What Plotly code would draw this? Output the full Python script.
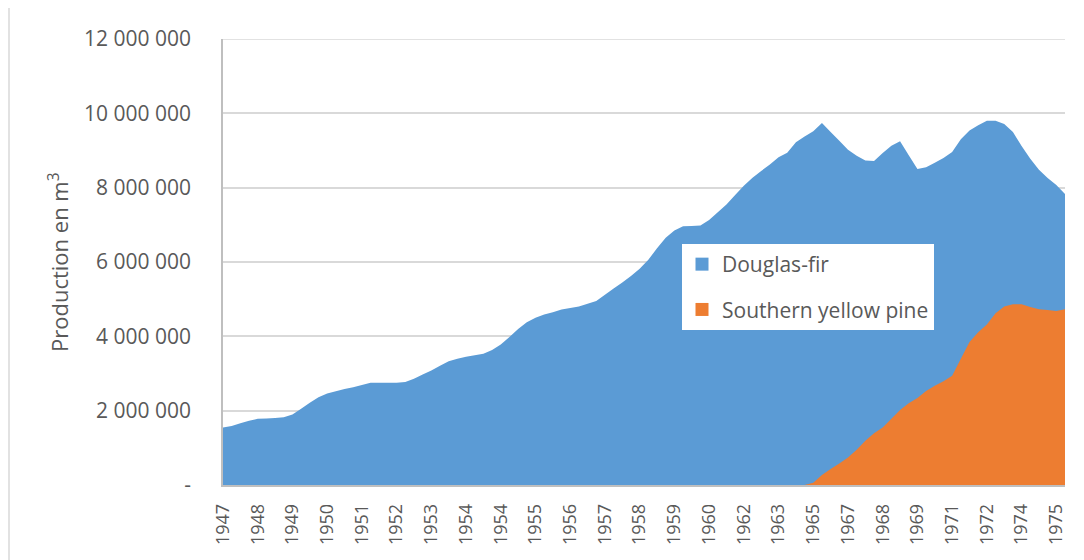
import plotly.graph_objects as go

# Tick labels shown every 4th category (98 categories in total)
tick_labels = ["1947", "1948", "1949", "1950", "1951", "1952", "1953", "1954", "1954",
               "1955", "1956", "1957", "1958", "1959", "1960", "1962", "1963", "1965",
               "1967", "1968", "1969", "1971", "1972", "1974", "1975"]

douglas_fir = [
    1550000, 1590000, 1660000, 1730000, 1780000, 1790000, 1800000, 1820000, 1900000, 2050000,
    2210000, 2360000, 2460000, 2520000, 2580000, 2630000, 2690000, 2750000, 2750000, 2750000,
    2750000, 2770000, 2860000, 2970000, 3080000, 3210000, 3330000, 3400000, 3450000, 3490000,
    3530000, 3630000, 3780000, 3980000, 4200000, 4380000, 4500000, 4590000, 4650000, 4720000,
    4760000, 4800000, 4880000, 4950000, 5120000, 5290000, 5450000, 5620000, 5820000, 6060000,
    6370000, 6650000, 6850000, 6960000, 6970000, 6980000, 7130000, 7340000, 7550000, 7800000,
    8050000, 8270000, 8450000, 8620000, 8820000, 8940000, 9220000, 9380000, 9520000, 9740000,
    9500000, 9260000, 9020000, 8860000, 8730000, 8720000, 8930000, 9130000, 9250000, 8870000,
    8500000, 8550000, 8670000, 8800000, 8960000, 9300000, 9540000, 9680000, 9800000, 9800000,
    9710000, 9500000, 9120000, 8780000, 8480000, 8260000, 8070000, 7830000,
]

southern_yellow_pine = [0] * 68 + [
    60000, 270000, 430000, 580000, 740000, 950000, 1190000, 1390000, 1550000, 1780000,
    2020000, 2200000, 2340000, 2530000, 2670000, 2790000, 2940000, 3400000, 3850000, 4110000,
    4320000, 4620000, 4800000, 4860000, 4860000, 4790000, 4730000, 4710000, 4680000, 4730000,
]

y_ticks = [0, 2000000, 4000000, 6000000, 8000000, 10000000, 12000000]
y_tick_text = ["-", "2 000 000", "4 000 000", "6 000 000", "8 000 000", "10 000 000", "12 000 000"]

BLUE = "#5B9BD5"
ORANGE = "#ED7D31"
TEXT = "#595959"
GRID = "#D9D9D9"

x = list(range(len(douglas_fir)))

fig = go.Figure()
fig.add_trace(go.Scatter(x=x, y=douglas_fir, mode="none", fill="tozeroy",
                         fillcolor=BLUE, showlegend=False, hoverinfo="skip"))
fig.add_trace(go.Scatter(x=x, y=southern_yellow_pine, mode="none", fill="tozeroy",
                         fillcolor=ORANGE, showlegend=False, hoverinfo="skip"))
# legend entries (square swatches)
fig.add_trace(go.Scatter(x=[None], y=[None], mode="markers", name="Douglas-fir",
                         marker=dict(symbol="square", size=13, color=BLUE),
                         legendgroup="a"))
fig.add_trace(go.Scatter(x=[None], y=[None], mode="markers", name="Southern yellow pine",
                         marker=dict(symbol="square", size=13, color=ORANGE),
                         legendgroup="b"))

# page body adds an 8px offset; figure occupies window area (8..1084, 8..560)
OFF = 8
W, H = 1084 - OFF, 560 - OFF
L, T = 223 - OFF, 39 - OFF
pw, ph = 842, 446
R = W - L - pw
B = H - T - ph


def px_x(wx):
    return (wx - OFF - L) / pw


def px_y(wy):
    return (T + ph - (wy - OFF)) / ph


fig.update_layout(
    width=W, height=H,
    margin=dict(l=L, r=R, t=T, b=B),
    paper_bgcolor="white", plot_bgcolor="white",
    font=dict(family="Open Sans, Lato, sans-serif", size=20, color=TEXT),
    legend=dict(
        x=px_x(682), y=px_y(244), xanchor="left", yanchor="top",
        bgcolor="white", borderwidth=0,
        font=dict(size=21, color=TEXT),
        tracegroupgap=15,
        traceorder="grouped",
    ),
    xaxis=dict(
        range=[0, len(douglas_fir) - 1],
        tickmode="array",
        tickvals=list(range(0, len(douglas_fir), 4))[:len(tick_labels)],
        ticktext=tick_labels,
        tickangle=-90,
        showgrid=False,
        zeroline=False,
        showline=True, linecolor="#BFBFBF", linewidth=1.5,
        ticks="", ticklabelstandoff=10,
        tickfont=dict(size=18, color=TEXT),
    ),
    yaxis=dict(
        range=[0, 12000000],
        tickmode="array",
        tickvals=y_ticks,
        ticktext=y_tick_text,
        showgrid=True, gridcolor=GRID, gridwidth=1.5,
        zeroline=False,
        showline=True, linecolor="#BFBFBF", linewidth=1.5,
        ticks="", ticklabelstandoff=26,
        tickfont=dict(size=21, color=TEXT),
    ),
    annotations=[dict(
        text="Production en m<sup>3</sup>",
        xref="paper", yref="paper",
        x=px_x(58), y=px_y(262),
        xanchor="center", yanchor="middle",
        textangle=-90, showarrow=False,
        font=dict(size=22, color=TEXT),
    )],
    shapes=[
        # top gridline at the last y tick
        dict(type="line", xref="paper", yref="y", layer="below",
             x0=0, x1=1, y0=y_ticks[-1], y1=y_ticks[-1],
             line=dict(color=GRID, width=1.5)),
        dict(type="line", xref="paper", yref="paper",
             x0=px_x(9), x1=px_x(9), y0=px_y(560), y1=px_y(0),
             line=dict(color=GRID, width=1.5)),
        dict(type="line", xref="paper", yref="paper",
             x0=px_x(1077), x1=px_x(1077), y0=px_y(560), y1=px_y(0),
             line=dict(color=GRID, width=1.5)),
    ],
)

fig.write_html("out.html")
